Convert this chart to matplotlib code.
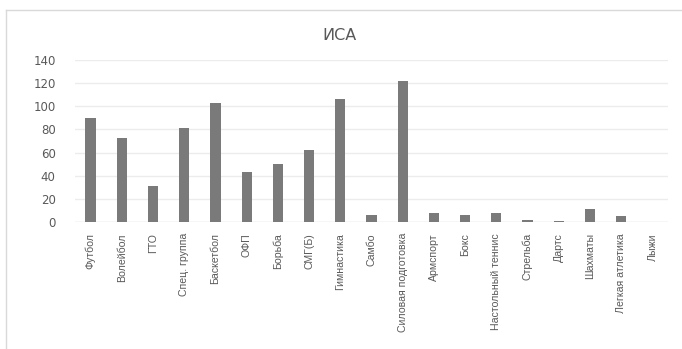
import matplotlib.pyplot as plt
from matplotlib.lines import Line2D
import numpy as np

# данные
sports = ['Футбол', 'Волейбол', 'ГТО', 'Спец. группа', 'Баскетбол', 'ОФП', 'Борьба',
          'СМГ(Б)', 'Гимнастика', 'Самбо', 'Силовая подготовка', 'Армспорт', 'Бокс',
          'Настольный теннис', 'Стрельба', 'Дартс', 'Шахматы', 'Легкая атлетика', 'Лыжи']
counts = [90, 73, 31, 81, 103, 43, 50, 62, 106, 6, 122, 8, 6, 8, 2, 1, 11, 5, 0]
yticks = [0, 20, 40, 60, 80, 100, 120, 140]

W, H = 682, 349
fig = plt.figure(figsize=(W / 100, H / 100), dpi=100)

# рамка области диаграммы: только левая и верхняя стороны видны
fx, fy = 5.5 / W, 1 - 9.5 / H
fig.add_artist(Line2D([fx, fx], [0, fy], transform=fig.transFigure, color='#d9d9d9', lw=1.0))
fig.add_artist(Line2D([fx, 1], [fy, fy], transform=fig.transFigure, color='#d9d9d9', lw=1.0))

ax = fig.add_axes([75 / W, 1 - 222 / H, (668 - 75) / W, (222 - 60) / H])
x = np.arange(len(sports))
ax.bar(x, counts, width=0.33, color='#7a7a7a', zorder=3)

ax.set_xlim(-0.5, len(sports) - 0.5)
ax.set_ylim(0, 140)
ax.set_yticks(yticks)
ax.grid(axis='y', color='#ececec', linewidth=1.0, zorder=0)
for s in ax.spines.values():
    s.set_visible(False)
ax.axhline(0, color='#e6e6e6', linewidth=1.0, zorder=2)

ax.set_xticks(x)
ax.set_xticklabels(sports, rotation=90, family=['Liberation Sans', 'DejaVu Sans'],
                   fontsize=7.6, color='#595959', va='top')
ax.tick_params(axis='x', length=0, pad=8)
ax.tick_params(axis='y', length=0, pad=14, labelsize=8.5, labelcolor='#595959')

fig.text(340 / W, 1 - 35 / H, 'ИСА', ha='center', va='center', fontsize=11.5, color='#595959')

fig.savefig('out.png', dpi=100)
